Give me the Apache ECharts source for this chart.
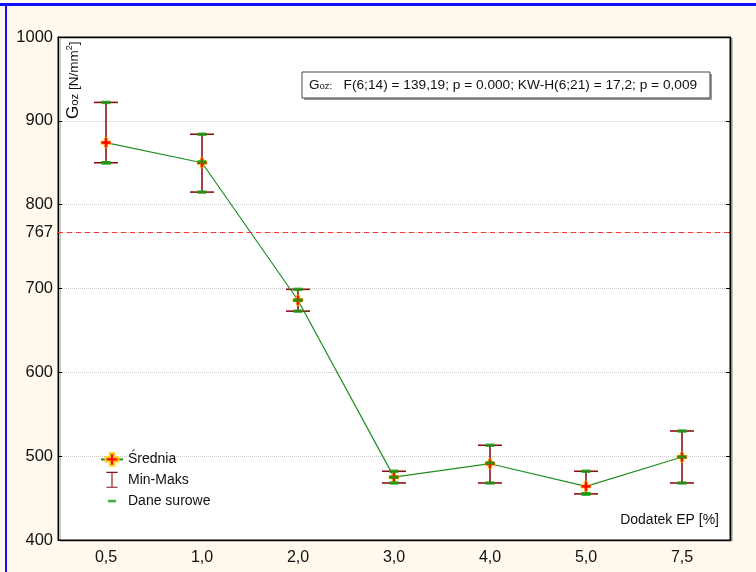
<!DOCTYPE html>
<html><head><meta charset="utf-8">
<script src="https://cdn.jsdelivr.net/npm/echarts@6/dist/echarts.min.js"></script>
<style>html,body{margin:0;padding:0;background:#fff9ee;}#c{width:756px;height:572px;}</style>
</head><body><div id="c"></div>
<script>
var categories = ['0,5','1,0','2,0','3,0','4,0','5,0','7,5'];
var means = [874, 850, 686, 475, 491, 464, 499];
var mins = [850, 815, 673, 468, 468, 455, 468];
var maxs = [922, 884, 699, 482, 513, 482, 530];
var raw0 = [850, 815, 673, 468, 468, 455, 468];
var raw1 = [850, 851, 686, 475, 492, 455, 499];
var raw2 = [922, 884, 699, 482, 513, 482, 530];
var refValue = 767;
var yTicks = [400, 500, 600, 700, 767, 800, 900, 1000];
var statText = 'F(6;14) = 139,19; p = 0.000; KW-H(6;21) = 17,2; p = 0,009';

var FONT = 'Liberation Sans, Arial, sans-serif';
var errData = categories.map(function(c, i){ return [i, mins[i], maxs[i]]; });
var rawData = [];
categories.forEach(function(c, i){
  rawData.push([i, raw0[i]]); rawData.push([i, raw1[i]]); rawData.push([i, raw2[i]]);
});

var chart = echarts.init(document.getElementById('c'));
var starPath = 'path://M3,0H6V3H9V6H6V9H3V6H0V3H3Z';
chart.setOption({
  backgroundColor: '#fff9ee',
  animation: false,
  textStyle: {fontFamily: FONT},
  grid: {left: 58, right: 26, top: 37, bottom: 32, show: true, backgroundColor: '#ffffff',
         borderColor: '#000', borderWidth: 1, shadowColor: '#8a8a8a', shadowOffsetX: 2, shadowOffsetY: 1, shadowBlur: 0},
  legend: {
    orient: 'vertical', left: 95, top: 447, itemWidth: 22, itemHeight: 16, itemGap: 5,
    textStyle: {fontSize: 14, color: '#111', fontFamily: FONT},
    data: [
      {name: 'Średnia'},
      {name: 'Min-Maks', icon: 'path://M0,0M22,20M4,0H18V1.4H11.7V18.6H18V20H4V18.6H10.3V1.4H4Z'},
      {name: 'Dane surowe', icon: 'path://M0,0M22,16M7,7H15V9.6H7Z'}
    ]
  },
  xAxis: [
    {type: 'category', data: categories, boundaryGap: true, position: 'bottom',
     axisLine: {lineStyle: {color: '#000'}}, axisTick: {inside: true, alignWithLabel: true, length: 4, lineStyle: {color: '#000'}},
     axisLabel: {fontSize: 16, color: '#111', margin: 10, fontFamily: FONT}},
    {type: 'category', data: categories, boundaryGap: true, position: 'top',
     axisLine: {lineStyle: {color: '#000'}}, axisTick: {inside: true, alignWithLabel: true, length: 4, lineStyle: {color: '#000'}},
     axisLabel: {show: false}}
  ],
  yAxis: [
    {type: 'value', min: 400, max: 1000, interval: 100, position: 'left',
     axisLine: {show: true, lineStyle: {color: '#000'}},
     axisTick: {show: true, inside: true, length: 4, customValues: yTicks, lineStyle: {color: '#000'}},
     axisLabel: {fontSize: 16.5, color: '#111', margin: 5, customValues: yTicks, fontFamily: FONT,
                 formatter: function(v){ return String(v); }},
     splitLine: {show: true, lineStyle: {color: '#c8c8c8', type: 'dotted', width: 1}}},
    {type: 'value', min: 400, max: 1000, interval: 100, position: 'right',
     axisLine: {show: true, lineStyle: {color: '#000'}},
     axisTick: {show: true, inside: true, length: 4, customValues: yTicks, lineStyle: {color: '#000'}},
     axisLabel: {show: false}, splitLine: {show: false}}
  ],
  graphic: [
    {type: 'rect', shape: {x: 0, y: 3, width: 756, height: 3}, style: {fill: '#1010ff'}, z: 100},
    {type: 'rect', shape: {x: 5, y: 3, width: 2, height: 569}, style: {fill: '#1010ff'}, z: 100},
    {type: 'rect', shape: {x: 304, y: 74, width: 408, height: 26}, style: {fill: '#9a9a9a'}, z: 90},
    {type: 'rect', shape: {x: 302, y: 72, width: 408, height: 26}, style: {fill: '#ffffff', stroke: '#444', lineWidth: 1}, z: 91},
    {type: 'text', x: 309, y: 85, z: 92, style: {
      text: '{g|G}{s|oz:}{t|   ' + statText + '}', verticalAlign: 'middle', align: 'left',
      rich: {g: {fontSize: 13.5, fontFamily: FONT, fill: '#111'}, s: {fontSize: 9.5, fontFamily: FONT, fill: '#111', padding: [3,0,0,0]},
             t: {fontSize: 13.7, fontFamily: FONT, fill: '#111'}}}},
    {type: 'text', x: 73, y: 119, rotation: Math.PI / 2, z: 92, style: {
      text: '{g|G}{s|oz}{t| [N/mm}{p|2}{t|]}', verticalAlign: 'middle', align: 'left',
      rich: {g: {fontSize: 17, fontFamily: FONT, fill: '#111'}, s: {fontSize: 11.5, fontFamily: FONT, fill: '#111', padding: [4,0,0,0]},
             t: {fontSize: 13.5, fontFamily: FONT, fill: '#111', padding: [2,0,0,0]}, p: {fontSize: 9, fontFamily: FONT, fill: '#111', padding: [0,0,6,0]}}}},
    {type: 'text', x: 719, y: 520, z: 92, style: {text: 'Dodatek EP [%]', align: 'right', verticalAlign: 'middle', fontSize: 14, fontFamily: FONT, fill: '#111'}}
  ],
  series: [
    {name: 'Min-Maks', type: 'custom', data: errData, encode: {x: 0, y: [1, 2]}, z: 2,
     itemStyle: {color: '#8b1212'},
     renderItem: function(params, api){
       var x = api.value(0);
       var lo = api.coord([x, api.value(1)]);
       var hi = api.coord([x, api.value(2)]);
       var hw = 12;
       var st = {stroke: '#8b1212', lineWidth: 1.6};
       return {type: 'group', children: [
         {type: 'line', shape: {x1: lo[0], y1: lo[1], x2: hi[0], y2: hi[1]}, style: st},
         {type: 'line', shape: {x1: lo[0]-hw, y1: lo[1], x2: lo[0]+hw, y2: lo[1]}, style: st},
         {type: 'line', shape: {x1: hi[0]-hw, y1: hi[1], x2: hi[0]+hw, y2: hi[1]}, style: st}
       ]};
     }},
    {name: 'Średnia', type: 'line', data: means, z: 3,
     lineStyle: {color: '#1f8f1f', width: 1.2}, itemStyle: {color: '#ff0a00', borderColor: '#ffd21a', borderWidth: 0.7},
     symbol: starPath, symbolSize: 10,
     markLine: {silent: true, symbol: 'none', label: {show: false},
       lineStyle: {color: '#ff3030', type: [5, 4], width: 1}, data: [{yAxis: refValue}]}},
    {name: 'Dane surowe', type: 'scatter', data: rawData, z: 4,
     symbol: 'rect', symbolSize: [9, 3.5], itemStyle: {color: '#12a012'}}
  ]
});
</script></body></html>
